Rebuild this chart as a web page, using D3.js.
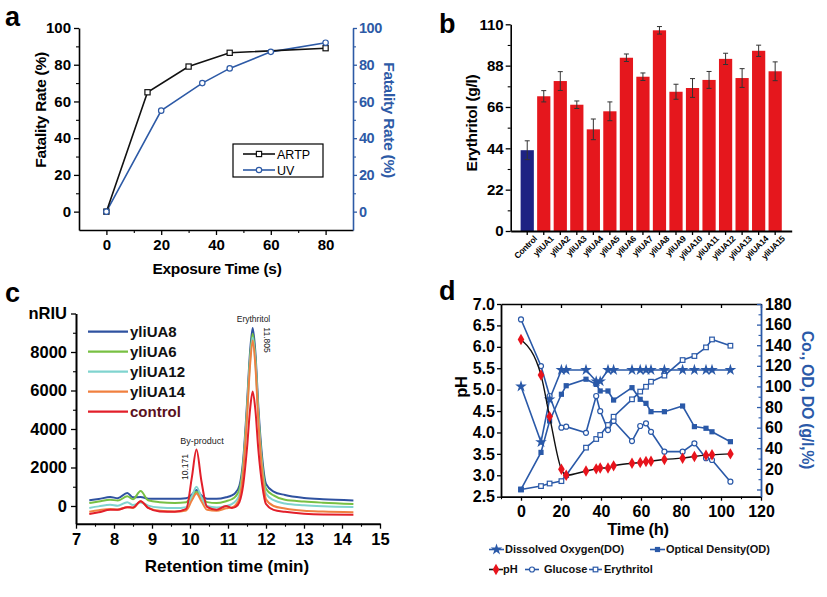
<!DOCTYPE html>
<html><head><meta charset="utf-8">
<script src="https://cdn.jsdelivr.net/npm/d3@7"></script>
<style>
body{margin:0;background:#fff}
svg{display:block}
text{font-family:"Liberation Sans",Arial,Helvetica,sans-serif;font-weight:bold}
</style>
</head><body>
<svg id="fig" width="827" height="597"></svg>
<script>
// ---------- Panel a data ----------
const aTimesARTP = [0, 15, 30, 45, 80];
const aARTP      = [0, 65, 79, 86.5, 89];
const aTimesUV   = [0, 20, 35, 45, 60, 80];
const aUV        = [0, 55, 70, 78, 87, 92];
const aTicksX    = [0, 20, 40, 60, 80];
const aTicksY    = [0, 20, 40, 60, 80, 100];

// ---------- Panel b data ----------
const bCategories = ["Control","yliUA1","yliUA2","yliUA3","yliUA4","yliUA5","yliUA6","yliUA7","yliUA8","yliUA9","yliUA10","yliUA11","yliUA12","yliUA13","yliUA14","yliUA15"];
const bValues = [43, 71.7, 79.8, 67.2, 54.1, 63.7, 92.2, 82.1, 106.8, 74.1, 76.1, 80.4, 91.6, 81.4, 95.9, 85];
const bErrors = [5, 3, 5, 2, 5.5, 5, 2, 2, 2, 4, 5, 4.5, 3, 5, 3, 5];
const bTicksY = [0, 22, 44, 66, 88, 110];

// ---------- Panel c data ----------
const cTimes = [7.35,7.6,7.9,8.1,8.35,8.5,8.7,8.9,9.2,9.6,9.9,10.05,10.17,10.3,10.45,10.7,10.95,11.1,11.2,11.3,11.4,11.5,11.58,11.65,11.72,11.8,11.9,12.0,12.2,12.5,13.0,13.5,14.3];
const cUA8   = [300,360,470,400,680,450,470,380,380,370,400,600,830,550,380,370,450,550,700,1050,2400,5300,8000,9250,8000,5100,2500,1150,750,570,420,350,290];
const cUA6   = [150,230,330,280,500,350,780,300,200,160,200,500,740,450,200,150,250,350,500,850,2200,5000,7700,8950,7700,4800,2200,900,550,320,230,170,100];
const cUA12  = [-100,-20,60,10,200,50,180,20,-80,-110,-60,500,1000,450,0,-80,0,100,250,600,2000,4800,7500,8750,7500,4600,2000,650,300,130,40,-10,-50];
const cUA14  = [-300,-220,-150,-180,-60,-100,250,-100,-250,-290,-230,300,650,250,-200,-250,-120,-80,50,400,1800,4600,7300,8600,7300,4400,1800,350,0,-130,-250,-290,-320];
const cCtrl  = [-420,-330,-200,-200,-60,-80,250,-100,-280,-300,-150,1500,2930,1300,-50,-200,0,-100,-50,200,1100,3000,5000,5950,5000,2900,1100,100,-200,-300,-400,-440,-450];
const cSeriesNames = ["yliUA8","yliUA6","yliUA12","yliUA14","control"];
const cTicksX = [7,8,9,10,11,12,13,14,15];
const cTicksY = [0,2000,4000,6000,8000,10000];

// ---------- Panel d data ----------
const dTimes  = [0,10,14.3,20.2,22.6,32.5,37.6,39.6,43.5,46.3,55.5,59.6,62.5,65,71.7,80.8,86.7,92.5,95.5,104.7];
const dPH     = [6.17,5.34,4.37,3.14,3.0,3.1,3.15,3.17,3.17,3.22,3.28,3.3,3.32,3.33,3.37,3.4,3.44,3.47,3.48,3.5];
const dDO     = [100,46,87.5,116,116,116,105,105,116,116,116,116,116,116,116,116,116,116,116,116];
const dOD     = [0,36,66.5,92.4,100.7,107,102,95.6,95.6,86.8,98.8,87.5,83.6,75.5,75.5,81,61,59.4,56,46.4];
const dGlucose= [165,119.8,90.7,60,61,55,90.7,76,57.7,66.5,47,61.6,64.2,56,36.7,36.7,44.8,30.3,28.6,7.6];
const dEry    = [0,3.3,5.8,8.1,13.9,40.6,49,52.9,62.6,70.6,87.5,95,99.7,104.6,110.5,125.6,129.5,137.9,145.6,139.5];
const dTicksX = [0,20,40,60,80,100,120];
const dTicksPH = [2.5,3.0,3.5,4.0,4.5,5.0,5.5,6.0,6.5,7.0];
const dTicksR = [0,20,40,60,80,100,120,140,160,180];

const svg = d3.select("#fig");
svg.append("rect").attr("width",827).attr("height",597).attr("fill","#fff");

const BLUE_A = "#2d5aa6";
const BLUE_D = "#2a59a8";

function styleAxis(g, fs, color, dw) {
  g.selectAll("text").style("font-size", fs + "px").attr("fill", color);
  g.selectAll(".tick line").attr("stroke", color).attr("stroke-width", 1.3);
  g.select(".domain").attr("stroke", color).attr("stroke-width", dw || 1.6);
}
function minor(g, color) {
  g.selectAll("text").remove();
  g.select(".domain").remove();
  g.selectAll("line").attr("stroke", color).attr("stroke-width", 1.1);
}
function panelLabel(t, x, y) {
  svg.append("text").attr("x", x).attr("y", y).text(t).style("font-size", "27px").attr("fill", "#000");
}
function rotLabel(t, x, y, ang, fs, color) {
  svg.append("text").attr("transform", `translate(${x},${y}) rotate(${ang})`)
    .attr("text-anchor", "middle").attr("dy", "0.35em").text(t)
    .style("font-size", fs + "px").attr("fill", color).style("letter-spacing", "-0.3px");
}

// ================= Panel a =================
(function () {
  const x = d3.scaleLinear().domain([-10, 90]).range([79, 353]);
  const y = d3.scaleLinear().domain([-10, 100]).range([230, 28]);
  const gxm = svg.append("g").attr("transform", "translate(0,230)")
    .call(d3.axisBottom(x).tickValues([10, 30, 50, 70]).tickSize(3));
  minor(gxm, "#000");
  const gx = svg.append("g").attr("transform", "translate(0,230)")
    .call(d3.axisBottom(x).tickValues(aTicksX).tickSize(5).tickSizeOuter(0).tickPadding(4));
  styleAxis(gx, 15, "#000");
  const gym = svg.append("g").attr("transform", "translate(79,0)")
    .call(d3.axisLeft(y).tickValues([10, 30, 50, 70, 90]).tickSize(3));
  minor(gym, "#000");
  const gy = svg.append("g").attr("transform", "translate(79,0)")
    .call(d3.axisLeft(y).tickValues(aTicksY).tickSize(5).tickSizeOuter(0).tickPadding(3));
  styleAxis(gy, 15, "#000");
  const grm = svg.append("g").attr("transform", "translate(353,0)")
    .call(d3.axisRight(y).tickValues([10, 30, 50, 70, 90]).tickSize(3));
  minor(grm, BLUE_A);
  const gr = svg.append("g").attr("transform", "translate(353,0)")
    .call(d3.axisRight(y).tickValues(aTicksY).tickSize(4).tickSizeOuter(0).tickPadding(2));
  styleAxis(gr, 14.5, BLUE_A);
  gr.selectAll("text").style("letter-spacing", "-0.5px");

  const line = d3.line().x(d => x(d[0])).y(d => y(d[1]));
  const artp = aTimesARTP.map((t, i) => [t, aARTP[i]]);
  const uv = aTimesUV.map((t, i) => [t, aUV[i]]);
  svg.append("path").attr("d", line(uv)).attr("fill", "none").attr("stroke", BLUE_A).attr("stroke-width", 1.6);
  svg.append("path").attr("d", line(artp)).attr("fill", "none").attr("stroke", "#111").attr("stroke-width", 1.6);
  svg.selectAll(".am").data(artp).enter().append("rect")
    .attr("x", d => x(d[0]) - 2.6).attr("y", d => y(d[1]) - 2.6).attr("width", 5.2).attr("height", 5.2)
    .attr("fill", "#fff").attr("stroke", "#111").attr("stroke-width", 1.2);
  svg.selectAll(".um").data(uv).enter().append("circle")
    .attr("cx", d => x(d[0])).attr("cy", d => y(d[1])).attr("r", 2.7)
    .attr("fill", "#fff").attr("stroke", BLUE_A).attr("stroke-width", 1.2);

  // legend
  svg.append("rect").attr("x", 233).attr("y", 144).attr("width", 90).attr("height", 33)
    .attr("fill", "#fff").attr("stroke", "#000").attr("stroke-width", 1.2);
  svg.append("line").attr("x1", 243).attr("x2", 275).attr("y1", 154).attr("y2", 154).attr("stroke", "#111").attr("stroke-width", 1.6);
  svg.append("rect").attr("x", 256.4).attr("y", 151.4).attr("width", 5.2).attr("height", 5.2).attr("fill", "#fff").attr("stroke", "#111").attr("stroke-width", 1.2);
  svg.append("text").attr("x", 277).attr("y", 158.5).text("ARTP").style("font-size", "12.5px").style("font-weight", "normal");
  svg.append("line").attr("x1", 243).attr("x2", 275).attr("y1", 170).attr("y2", 170).attr("stroke", BLUE_A).attr("stroke-width", 1.6);
  svg.append("circle").attr("cx", 259).attr("cy", 170).attr("r", 2.7).attr("fill", "#fff").attr("stroke", BLUE_A).attr("stroke-width", 1.2);
  svg.append("text").attr("x", 277).attr("y", 174.5).text("UV").style("font-size", "12.5px").style("font-weight", "normal");

  rotLabel("Fatality Rate (%)", 41, 110, -90, 15.5, "#000");
  rotLabel("Fatality Rate (%)", 389, 120, 90, 15.5, BLUE_A);
  svg.append("text").attr("x", 217).attr("y", 274).attr("text-anchor", "middle").text("Exposure Time (s)")
    .style("font-size", "15.5px").style("letter-spacing", "-0.3px");
  panelLabel("a", 5, 26);
})();

// ================= Panel b =================
(function () {
  const x = d3.scaleBand().domain(bCategories).range([510.7, 791.7]).paddingInner(0.2).paddingOuter(0.6);
  const y = d3.scaleLinear().domain([0, 110]).range([231, 24.3]);
  const gym = svg.append("g").attr("transform", "translate(510.7,0)")
    .call(d3.axisLeft(y).tickValues([11, 33, 55, 77, 99]).tickSize(3));
  minor(gym, "#000");
  const gy = svg.append("g").attr("transform", "translate(510.7,0)")
    .call(d3.axisLeft(y).tickValues(bTicksY).tickSize(5).tickSizeOuter(0).tickPadding(2));
  styleAxis(gy, 15, "#000");

  svg.selectAll(".bar").data(bCategories).enter().append("rect")
    .attr("x", d => x(d)).attr("width", x.bandwidth())
    .attr("y", (d, i) => y(bValues[i])).attr("height", (d, i) => y(0) - y(bValues[i]))
    .attr("fill", (d, i) => i === 0 ? "#1e2283" : "#e5171d");
  const eb = svg.selectAll(".eb").data(bCategories).enter().append("g");
  eb.append("line").attr("x1", d => x(d) + x.bandwidth() / 2).attr("x2", d => x(d) + x.bandwidth() / 2)
    .attr("y1", (d, i) => y(bValues[i] - bErrors[i])).attr("y2", (d, i) => y(bValues[i] + bErrors[i]))
    .attr("stroke", "#333").attr("stroke-width", 1);
  eb.append("line").attr("x1", d => x(d) + x.bandwidth() / 2 - 2.5).attr("x2", d => x(d) + x.bandwidth() / 2 + 2.5)
    .attr("y1", (d, i) => y(bValues[i] + bErrors[i])).attr("y2", (d, i) => y(bValues[i] + bErrors[i]))
    .attr("stroke", "#333").attr("stroke-width", 1);
  eb.append("line").attr("x1", d => x(d) + x.bandwidth() / 2 - 2.5).attr("x2", d => x(d) + x.bandwidth() / 2 + 2.5)
    .attr("y1", (d, i) => y(bValues[i] - bErrors[i])).attr("y2", (d, i) => y(bValues[i] - bErrors[i]))
    .attr("stroke", "#333").attr("stroke-width", 1);

  const gx = svg.append("g").attr("transform", "translate(0,231)")
    .call(d3.axisBottom(x).tickSize(4).tickSizeOuter(0).tickPadding(2));
  styleAxis(gx, 8.5, "#000", 2);
  gx.selectAll("text").attr("text-anchor", "end")
    .attr("transform", "translate(4,2) rotate(-45)").attr("dy", "0.35em").attr("y", 6).attr("x", 0)
    .style("letter-spacing", "-0.3px");

  rotLabel("Erythritol (g/l)", 472, 123, -90, 15.5, "#000");
  panelLabel("b", 439, 33);
})();

// ================= Panel c =================
(function () {
  const x = d3.scaleLinear().domain([7, 15]).range([76, 380]);
  const y = d3.scaleLinear().domain([-920, 10000]).range([523.7, 313.5]);
  const gxm = svg.append("g").attr("transform", "translate(0,523.7)")
    .call(d3.axisBottom(x).tickValues([7.5, 8.5, 9.5, 10.5, 11.5, 12.5, 13.5, 14.5]).tickSize(3));
  minor(gxm, "#000");
  const gx = svg.append("g").attr("transform", "translate(0,523.7)")
    .call(d3.axisBottom(x).tickValues(cTicksX).tickSize(5).tickSizeOuter(0).tickPadding(5));
  styleAxis(gx, 16.5, "#000", 2);
  const gym = svg.append("g").attr("transform", "translate(76,0)")
    .call(d3.axisLeft(y).tickValues([1000, 3000, 5000, 7000, 9000]).tickSize(3));
  minor(gym, "#000");
  const gy = svg.append("g").attr("transform", "translate(76,0)")
    .call(d3.axisLeft(y).tickValues(cTicksY).tickSize(5).tickSizeOuter(0).tickPadding(4)
      .tickFormat(d => d === 10000 ? "nRIU" : d));
  styleAxis(gy, 16.5, "#000", 2);

  const series = [cUA8, cUA6, cUA12, cUA14, cCtrl];
  const colors = ["#2f52a0", "#78c043", "#80d4cf", "#f08040", "#e21f2a"];
  const line = d3.line().x((d, i) => x(cTimes[i])).y(d => y(d)).curve(d3.curveMonotoneX);
  series.forEach((s, k) => {
    svg.append("path").attr("d", line(s)).attr("fill", "none").attr("stroke", colors[k])
      .attr("stroke-width", 2).attr("stroke-linejoin", "round");
  });

  const legY = [331.7, 351.7, 371.7, 391.7, 411.7];
  cSeriesNames.forEach((n, k) => {
    svg.append("line").attr("x1", 88).attr("x2", 128).attr("y1", legY[k]).attr("y2", legY[k])
      .attr("stroke", colors[k]).attr("stroke-width", 2.2);
    svg.append("text").attr("x", 130).attr("y", legY[k]).attr("dy", "0.35em").text(n)
      .style("font-size", "15px").attr("fill", k === 4 ? "#5a1020" : "#111");
  });

  svg.append("text").attr("x", 253.5).attr("y", 322).attr("text-anchor", "middle").text("Erythritol")
    .style("font-size", "8.5px").style("font-weight", "normal").attr("fill", "#222");
  rotLabel("11.805", 266.5, 340, 90, 8.5, "#222");
  svg.append("text").attr("x", 202).attr("y", 444).attr("text-anchor", "middle").text("By-product")
    .style("font-size", "9px").style("font-weight", "normal").attr("fill", "#222");
  rotLabel("10.171", 185, 467, -90, 8.5, "#222");
  svg.selectAll("text").filter(function () { return this.textContent === "11.805" || this.textContent === "10.171"; })
    .style("font-weight", "normal").style("letter-spacing", "0px");

  svg.append("text").attr("x", 227).attr("y", 572).attr("text-anchor", "middle").text("Retention time (min)")
    .style("font-size", "17px");
  panelLabel("c", 5, 302);
})();

// ================= Panel d =================
(function () {
  const x = d3.scaleLinear().domain([-10, 120]).range([501, 761]);
  const yL = d3.scaleLinear().domain([2.5, 7.0]).range([496.7, 304]);
  const yR = d3.scaleLinear().domain([-7, 180]).range([496.7, 304]);

  const gt = svg.append("g").attr("transform", "translate(0,304)")
    .call(d3.axisTop(x).tickValues(dTicksX).tickSize(-4).tickSizeOuter(0).tickFormat(""));
  styleAxis(gt, 10, "#000", 1.6);
  const gxm = svg.append("g").attr("transform", "translate(0,496.7)")
    .call(d3.axisBottom(x).tickValues([-10, 10, 30, 50, 70, 90, 110]).tickSize(2.5));
  minor(gxm, "#000");
  const gx = svg.append("g").attr("transform", "translate(0,496.7)")
    .call(d3.axisBottom(x).tickValues(dTicksX).tickSize(4).tickSizeOuter(0).tickPadding(5));
  styleAxis(gx, 16, "#000", 1.8);
  const gy = svg.append("g").attr("transform", "translate(501,0)")
    .call(d3.axisLeft(yL).tickValues(dTicksPH).tickSize(4).tickSizeOuter(0).tickPadding(2).tickFormat(d3.format(".1f")));
  styleAxis(gy, 16, "#000", 1.8);
  const grm = svg.append("g").attr("transform", "translate(761,0)")
    .call(d3.axisRight(yR).tickValues([10, 30, 50, 70, 90, 110, 130, 150, 170]).tickSize(-2.5));
  minor(grm, BLUE_D);
  const gr = svg.append("g").attr("transform", "translate(761,0)")
    .call(d3.axisRight(yR).tickValues(dTicksR).tickSize(-4).tickSizeOuter(0).tickPadding(4));
  styleAxis(gr, 16, "#000", 1.8);
  gr.select(".domain").attr("stroke", BLUE_D);
  gr.selectAll(".tick line").attr("stroke", BLUE_D);

  const lineR = arr => d3.line().x((d, i) => x(dTimes[i])).y(d => yR(d))(arr);
  const blueSeries = [dGlucose, dEry, dOD, dDO];
  blueSeries.forEach(s => {
    svg.append("path").attr("d", lineR(s)).attr("fill", "none").attr("stroke", BLUE_D).attr("stroke-width", 1.6);
  });
  svg.selectAll(".gl").data(dGlucose).enter().append("circle")
    .attr("cx", (d, i) => x(dTimes[i])).attr("cy", d => yR(d)).attr("r", 2.5)
    .attr("fill", "#fff").attr("stroke", BLUE_D).attr("stroke-width", 1.2);
  svg.selectAll(".er").data(dEry).enter().append("rect")
    .attr("x", (d, i) => x(dTimes[i]) - 2.3).attr("y", d => yR(d) - 2.3).attr("width", 4.6).attr("height", 4.6)
    .attr("fill", "#fff").attr("stroke", BLUE_D).attr("stroke-width", 1.2);
  svg.selectAll(".od").data(dOD).enter().append("rect")
    .attr("x", (d, i) => x(dTimes[i]) - 2.6).attr("y", d => yR(d) - 2.6).attr("width", 5.2).attr("height", 5.2)
    .attr("fill", BLUE_D);
  const star = d3.symbol().type(d3.symbolStar).size(42);
  svg.selectAll(".do").data(dDO).enter().append("path").attr("d", star)
    .attr("transform", (d, i) => `translate(${x(dTimes[i])},${yR(d)})`).attr("fill", BLUE_D);
  const linePH = d3.line().x((d, i) => x(dTimes[i])).y(d => yL(d)).curve(d3.curveMonotoneX);
  svg.append("path").attr("d", linePH(dPH)).attr("fill", "none").attr("stroke", "#111").attr("stroke-width", 1.4);
  const diamond = d3.symbol().type(d3.symbolDiamond).size(38);
  svg.selectAll(".ph").data(dPH).enter().append("path").attr("d", diamond)
    .attr("transform", (d, i) => `translate(${x(dTimes[i])},${yL(d)})`).attr("fill", "#e8131c");

  const lg = svg.append("g");
  function legItem(x1, x2, yy, color, marker, label, tx) {
    lg.append("line").attr("x1", x1).attr("x2", x2).attr("y1", yy).attr("y2", yy).attr("stroke", color).attr("stroke-width", 1.6);
    const cx = (x1 + x2) / 2;
    if (marker === "star") lg.append("path").attr("d", star).attr("transform", `translate(${cx},${yy})`).attr("fill", BLUE_D);
    if (marker === "sq") lg.append("rect").attr("x", cx - 2.6).attr("y", yy - 2.6).attr("width", 5.2).attr("height", 5.2).attr("fill", BLUE_D);
    if (marker === "dia") lg.append("path").attr("d", diamond).attr("transform", `translate(${cx},${yy})`).attr("fill", "#e8131c");
    if (marker === "circ") lg.append("circle").attr("cx", cx).attr("cy", yy).attr("r", 2.5).attr("fill", "#fff").attr("stroke", BLUE_D).attr("stroke-width", 1.2);
    if (marker === "osq") lg.append("rect").attr("x", cx - 2.3).attr("y", yy - 2.3).attr("width", 4.6).attr("height", 4.6).attr("fill", "#fff").attr("stroke", BLUE_D).attr("stroke-width", 1.2);
    lg.append("text").attr("x", tx).attr("y", yy).attr("dy", "0.36em").text(label).style("font-size", "11px").attr("fill", "#111");
  }
  legItem(489, 504, 549.5, BLUE_D, "star", "Dissolved Oxygen(DO)", 505);
  legItem(650, 665, 549.5, BLUE_D, "sq", "Optical Density(OD)", 666);
  legItem(489, 503, 569.5, "#111", "dia", "pH", 503);
  legItem(525, 539, 569.5, BLUE_D, "circ", "Glucose", 544);
  legItem(589, 602, 569.5, BLUE_D, "osq", "Erythritol", 604);

  rotLabel("pH", 461, 387, -90, 16.5, "#000");
  rotLabel("Co., OD, DO (g/l,%)", 808, 400, 90, 16, BLUE_D);
  svg.append("text").attr("x", 638).attr("y", 535).attr("text-anchor", "middle").text("Time (h)")
    .style("font-size", "16.5px").style("letter-spacing", "-0.3px");
  panelLabel("d", 439, 300);
})();
</script>
</body></html>
